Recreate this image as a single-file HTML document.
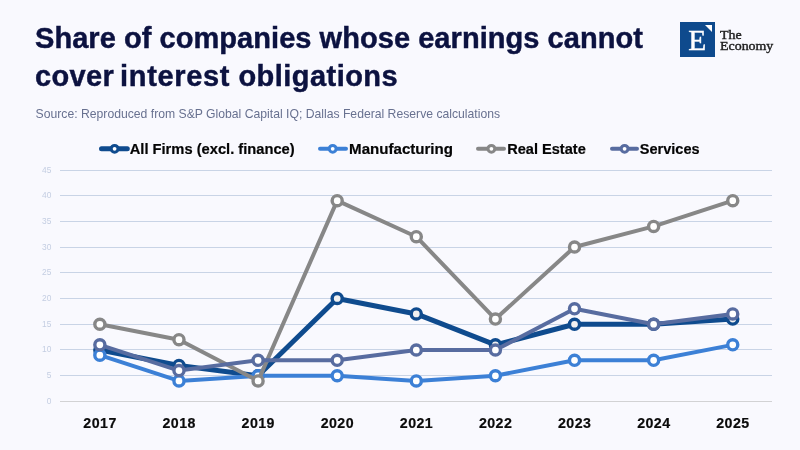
<!DOCTYPE html>
<html lang="en"><head><meta charset="utf-8"><title>Share of companies whose earnings cannot cover interest obligations</title>
<style>
html,body{margin:0;padding:0;}
body{width:800px;height:450px;overflow:hidden;background:#f9f9fe;font-family:"Liberation Sans",sans-serif;position:relative;}
.chart{position:absolute;left:0;top:0;}
.yt{font-family:"Liberation Sans",sans-serif;font-size:8.4px;fill:#c4cee2;}
.xt{font-family:"Liberation Sans",sans-serif;font-size:14.2px;font-weight:bold;fill:#0b0b0b;letter-spacing:0.45px;stroke:#0b0b0b;stroke-width:0.2px;}
.lg{font-family:"Liberation Sans",sans-serif;font-size:15.4px;font-weight:bold;fill:#050505;stroke:#050505;stroke-width:0.2px;}
.t{position:absolute;left:35px;white-space:nowrap;font-weight:bold;font-size:29px;line-height:38px;color:#0c1240;-webkit-text-stroke:0.45px #0c1240;}
#t1{top:19.4px;letter-spacing:0.05px;}
#t2{top:57.3px;letter-spacing:0.34px;}
#sub{position:absolute;left:35.6px;top:106.3px;white-space:nowrap;font-size:12.2px;line-height:16px;color:#687190;}
.logo{position:absolute;left:680px;top:22px;width:35px;height:35px;background:#0e4a8d;}
.logo span{position:absolute;left:0.3px;width:34px;text-align:center;top:3.2px;font-family:"Liberation Serif",serif;font-size:29.5px;line-height:30px;color:#fff;-webkit-text-stroke:0.4px #fff;}
.logo i{position:absolute;right:2.8px;top:3.4px;width:0;height:0;border-top:7px solid #fff;border-left:7px solid transparent;}
.brand{position:absolute;left:720px;top:28.6px;font-family:"Liberation Serif",serif;font-size:13px;line-height:11.4px;color:#1c1c1c;white-space:nowrap;-webkit-text-stroke:0.4px #1c1c1c;transform:scaleX(1.07);transform-origin:0 0;}
</style></head><body>
<svg class="chart" width="800" height="450" viewBox="0 0 800 450">
<rect x="60" y="170" width="712" height="1" fill="#c9d4e6" shape-rendering="crispEdges"/>
<text x="51.4" y="173.20" class="yt" text-anchor="end">45</text>
<rect x="60" y="195" width="712" height="1" fill="#c9d4e6" shape-rendering="crispEdges"/>
<text x="51.4" y="198.20" class="yt" text-anchor="end">40</text>
<rect x="60" y="221" width="712" height="1" fill="#c9d4e6" shape-rendering="crispEdges"/>
<text x="51.4" y="224.20" class="yt" text-anchor="end">35</text>
<rect x="60" y="247" width="712" height="1" fill="#c9d4e6" shape-rendering="crispEdges"/>
<text x="51.4" y="250.20" class="yt" text-anchor="end">30</text>
<rect x="60" y="272" width="712" height="1" fill="#c9d4e6" shape-rendering="crispEdges"/>
<text x="51.4" y="275.20" class="yt" text-anchor="end">25</text>
<rect x="60" y="298" width="712" height="1" fill="#c9d4e6" shape-rendering="crispEdges"/>
<text x="51.4" y="301.20" class="yt" text-anchor="end">20</text>
<rect x="60" y="324" width="712" height="1" fill="#c9d4e6" shape-rendering="crispEdges"/>
<text x="51.4" y="327.20" class="yt" text-anchor="end">15</text>
<rect x="60" y="349" width="712" height="1" fill="#c9d4e6" shape-rendering="crispEdges"/>
<text x="51.4" y="352.20" class="yt" text-anchor="end">10</text>
<rect x="60" y="375" width="712" height="1" fill="#c9d4e6" shape-rendering="crispEdges"/>
<text x="51.4" y="378.20" class="yt" text-anchor="end">5</text>
<rect x="60" y="401" width="712" height="1" fill="#d2d2d4" shape-rendering="crispEdges"/>
<text x="51.4" y="404.20" class="yt" text-anchor="end">0</text>
<polyline points="99.86,350.00 178.97,365.45 258.08,375.75 337.19,298.50 416.30,313.95 495.41,344.85 574.52,324.25 653.63,324.25 732.74,319.10" fill="none" stroke="#0f4b8e" stroke-width="5" stroke-linejoin="round" stroke-linecap="round"/>
<circle cx="99.86" cy="350.00" r="5.05" fill="#f0f0f0" stroke="#0f4b8e" stroke-width="3.4"/>
<circle cx="178.97" cy="365.45" r="5.05" fill="#f0f0f0" stroke="#0f4b8e" stroke-width="3.4"/>
<circle cx="258.08" cy="375.75" r="5.05" fill="#f0f0f0" stroke="#0f4b8e" stroke-width="3.4"/>
<circle cx="337.19" cy="298.50" r="5.05" fill="#f0f0f0" stroke="#0f4b8e" stroke-width="3.4"/>
<circle cx="416.30" cy="313.95" r="5.05" fill="#f0f0f0" stroke="#0f4b8e" stroke-width="3.4"/>
<circle cx="495.41" cy="344.85" r="5.05" fill="#f0f0f0" stroke="#0f4b8e" stroke-width="3.4"/>
<circle cx="574.52" cy="324.25" r="5.05" fill="#f0f0f0" stroke="#0f4b8e" stroke-width="3.4"/>
<circle cx="653.63" cy="324.25" r="5.05" fill="#f0f0f0" stroke="#0f4b8e" stroke-width="3.4"/>
<circle cx="732.74" cy="319.10" r="5.05" fill="#f0f0f0" stroke="#0f4b8e" stroke-width="3.4"/>
<polyline points="99.86,355.15 178.97,380.90 258.08,375.75 337.19,375.75 416.30,380.90 495.41,375.75 574.52,360.30 653.63,360.30 732.74,344.85" fill="none" stroke="#3c80d6" stroke-width="4" stroke-linejoin="round" stroke-linecap="round"/>
<circle cx="99.86" cy="355.15" r="5.05" fill="#ffffff" stroke="#3c80d6" stroke-width="3.4"/>
<circle cx="178.97" cy="380.90" r="5.05" fill="#ffffff" stroke="#3c80d6" stroke-width="3.4"/>
<circle cx="258.08" cy="375.75" r="5.05" fill="#ffffff" stroke="#3c80d6" stroke-width="3.4"/>
<circle cx="337.19" cy="375.75" r="5.05" fill="#ffffff" stroke="#3c80d6" stroke-width="3.4"/>
<circle cx="416.30" cy="380.90" r="5.05" fill="#ffffff" stroke="#3c80d6" stroke-width="3.4"/>
<circle cx="495.41" cy="375.75" r="5.05" fill="#ffffff" stroke="#3c80d6" stroke-width="3.4"/>
<circle cx="574.52" cy="360.30" r="5.05" fill="#ffffff" stroke="#3c80d6" stroke-width="3.4"/>
<circle cx="653.63" cy="360.30" r="5.05" fill="#ffffff" stroke="#3c80d6" stroke-width="3.4"/>
<circle cx="732.74" cy="344.85" r="5.05" fill="#ffffff" stroke="#3c80d6" stroke-width="3.4"/>
<polyline points="99.86,324.25 178.97,339.70 258.08,380.90 337.19,200.65 416.30,236.70 495.41,319.10 574.52,247.00 653.63,226.40 732.74,200.65" fill="none" stroke="#878787" stroke-width="4" stroke-linejoin="round" stroke-linecap="round"/>
<circle cx="99.86" cy="324.25" r="5.05" fill="#ffffff" stroke="#878787" stroke-width="3.4"/>
<circle cx="178.97" cy="339.70" r="5.05" fill="#ffffff" stroke="#878787" stroke-width="3.4"/>
<circle cx="258.08" cy="380.90" r="5.05" fill="#ffffff" stroke="#878787" stroke-width="3.4"/>
<circle cx="337.19" cy="200.65" r="5.05" fill="#ffffff" stroke="#878787" stroke-width="3.4"/>
<circle cx="416.30" cy="236.70" r="5.05" fill="#ffffff" stroke="#878787" stroke-width="3.4"/>
<circle cx="495.41" cy="319.10" r="5.05" fill="#ffffff" stroke="#878787" stroke-width="3.4"/>
<circle cx="574.52" cy="247.00" r="5.05" fill="#ffffff" stroke="#878787" stroke-width="3.4"/>
<circle cx="653.63" cy="226.40" r="5.05" fill="#ffffff" stroke="#878787" stroke-width="3.4"/>
<circle cx="732.74" cy="200.65" r="5.05" fill="#ffffff" stroke="#878787" stroke-width="3.4"/>
<polyline points="99.86,344.85 178.97,370.60 258.08,360.30 337.19,360.30 416.30,350.00 495.41,350.00 574.52,308.80 653.63,324.25 732.74,313.95" fill="none" stroke="#586ca0" stroke-width="4" stroke-linejoin="round" stroke-linecap="round"/>
<circle cx="99.86" cy="344.85" r="5.05" fill="#ffffff" stroke="#586ca0" stroke-width="3.4"/>
<circle cx="178.97" cy="370.60" r="5.05" fill="#ffffff" stroke="#586ca0" stroke-width="3.4"/>
<circle cx="258.08" cy="360.30" r="5.05" fill="#ffffff" stroke="#586ca0" stroke-width="3.4"/>
<circle cx="337.19" cy="360.30" r="5.05" fill="#ffffff" stroke="#586ca0" stroke-width="3.4"/>
<circle cx="416.30" cy="350.00" r="5.05" fill="#ffffff" stroke="#586ca0" stroke-width="3.4"/>
<circle cx="495.41" cy="350.00" r="5.05" fill="#ffffff" stroke="#586ca0" stroke-width="3.4"/>
<circle cx="574.52" cy="308.80" r="5.05" fill="#ffffff" stroke="#586ca0" stroke-width="3.4"/>
<circle cx="653.63" cy="324.25" r="5.05" fill="#ffffff" stroke="#586ca0" stroke-width="3.4"/>
<circle cx="732.74" cy="313.95" r="5.05" fill="#ffffff" stroke="#586ca0" stroke-width="3.4"/>
<text x="100.06" y="428.3" class="xt" text-anchor="middle">2017</text>
<text x="179.17" y="428.3" class="xt" text-anchor="middle">2018</text>
<text x="258.28" y="428.3" class="xt" text-anchor="middle">2019</text>
<text x="337.39" y="428.3" class="xt" text-anchor="middle">2020</text>
<text x="416.50" y="428.3" class="xt" text-anchor="middle">2021</text>
<text x="495.61" y="428.3" class="xt" text-anchor="middle">2022</text>
<text x="574.72" y="428.3" class="xt" text-anchor="middle">2023</text>
<text x="653.83" y="428.3" class="xt" text-anchor="middle">2024</text>
<text x="732.94" y="428.3" class="xt" text-anchor="middle">2025</text>
<line x1="101.5" y1="148.8" x2="127.3" y2="148.8" stroke="#0f4b8e" stroke-width="5" stroke-linecap="round"/>
<circle cx="114.6" cy="148.8" r="3.4" fill="#ffffff" stroke="#0f4b8e" stroke-width="3"/>
<text x="129.7" y="154" class="lg" textLength="165.0" lengthAdjust="spacingAndGlyphs">All Firms (excl. finance)</text>
<line x1="320.0" y1="148.8" x2="346.0" y2="148.8" stroke="#3c80d6" stroke-width="4" stroke-linecap="round"/>
<circle cx="332.7" cy="148.8" r="3.4" fill="#ffffff" stroke="#3c80d6" stroke-width="3"/>
<text x="349.1" y="154" class="lg" textLength="103.9" lengthAdjust="spacingAndGlyphs">Manufacturing</text>
<line x1="478.0" y1="148.8" x2="504.0" y2="148.8" stroke="#878787" stroke-width="4" stroke-linecap="round"/>
<circle cx="491.4" cy="148.8" r="3.4" fill="#ffffff" stroke="#878787" stroke-width="3"/>
<text x="507.2" y="154" class="lg" textLength="78.6" lengthAdjust="spacingAndGlyphs">Real Estate</text>
<line x1="612.0" y1="148.8" x2="637.0" y2="148.8" stroke="#586ca0" stroke-width="4" stroke-linecap="round"/>
<circle cx="624.6" cy="148.8" r="3.4" fill="#ffffff" stroke="#586ca0" stroke-width="3"/>
<text x="639.8" y="154" class="lg" textLength="59.8" lengthAdjust="spacingAndGlyphs">Services</text>
</svg>
<div class="t" id="t1">Share of companies whose earnings cannot</div>
<div class="t" id="t2">cover <span style="margin-left:-2.4px;letter-spacing:0.64px">interest</span> <span style="letter-spacing:0.46px">obligations</span></div>
<div id="sub">Source: Reproduced from S&amp;P Global Capital IQ; Dallas Federal Reserve calculations</div>
<div class="logo"><span>E</span><i></i></div>
<div class="brand">The<br>Economy</div>
</body></html>
